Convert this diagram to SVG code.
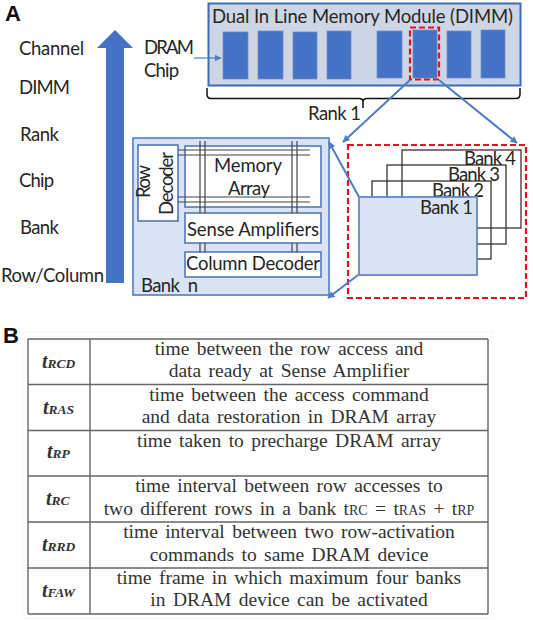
<svg xmlns="http://www.w3.org/2000/svg" width="533" height="620" viewBox="0 0 533 620">
<style>
.s{font-family:"Lato","Open Sans","Liberation Sans",sans-serif;font-size:18.500px;fill:#262626}
.h{font-family:"Liberation Sans",Arial,sans-serif;font-size:22px;font-weight:700;fill:#111}
.c{fill:#4472c4;stroke:#6f90cc;stroke-width:.8}
.b{fill:#fff;stroke:#5577b5;stroke-width:1.6}
.g{fill:none;stroke:#444;stroke-width:1.2}
.k{fill:none;stroke:#333;stroke-width:1.3}
.d{fill:none;stroke:#e8101c;stroke-width:2.200;stroke-dasharray:6 3}
.a{fill:none;stroke:#4f7cc4;stroke-width:2}
.t{font-family:"Liberation Serif","Times New Roman",serif;font-size:19.500px;fill:#333;text-anchor:middle;word-spacing:2.500px}
.m{font-family:"Liberation Serif","Times New Roman",serif;font-size:20px;font-weight:700;font-style:italic;fill:#333}
.m tspan{font-size:13.500px}
.t tspan{font-size:14px}
.l{fill:none;stroke:#666;stroke-width:1.4}
</style>
<defs>
<marker id="ah" markerWidth="8" markerHeight="8" refX="6.500" refY="3.500" orient="auto" markerUnits="userSpaceOnUse"><path d="M0 0L7 3.500L0 7Z" fill="#4f7cc4"/></marker>
</defs>
<rect width="533" height="620" fill="#fff"/>
<text class="h" x="5" y="21">A</text>
<text class="h" x="3" y="343">B</text>

<g id="hierarchy">
<path d="M106 283V48H97L115 30L133 48H124V283Z" fill="#4472c4"/>
<text class="s" x="19" y="55" textLength="65">Channel</text>
<text class="s" x="19" y="94" textLength="51">DIMM</text>
<text class="s" x="20" y="141" textLength="39">Rank</text>
<text class="s" x="19" y="187" textLength="35">Chip</text>
<text class="s" x="20" y="234" textLength="39">Bank</text>
<text class="s" x="1" y="282" textLength="103">Row/Column</text>
</g>

<g id="dimm">
<rect x="208.500" y="3.500" width="312" height="82" fill="#ced6e5" stroke="#3f6cb3" stroke-width="2"/>
<text class="s" x="212" y="23" textLength="301">Dual In Line Memory Module (DIMM)</text>
<rect class="c" x="223" y="32" width="25" height="47"/>
<rect class="c" x="258" y="31" width="25" height="48"/>
<rect class="c" x="293" y="32" width="24" height="47"/>
<rect class="c" x="327" y="31" width="24" height="48"/>
<rect class="c" x="377" y="31" width="25" height="47"/>
<rect class="c" x="413" y="30" width="24" height="48"/>
<rect class="c" x="447" y="31" width="24" height="47"/>
<rect class="c" x="481" y="30" width="24" height="48"/>
<rect class="d" x="410" y="27.500" width="29" height="52"/>
</g>
<g id="dram-chip-label">
<text class="s" x="144" y="54" textLength="50">DRAM</text>
<text class="s" x="144" y="77" textLength="35">Chip</text>
</g>
<g id="rank-1">
<path d="M207 88V94Q207 98.500 211 98.500H359Q363 98.500 363 102V108M363 102Q363 98.500 367 98.500H516Q520 98.500 520 94V88" fill="none" stroke="#111" stroke-width="1.500"/>
<text class="s" x="308" y="120" textLength="53">Rank 1</text>
</g>

<g id="bank-n">
<rect x="133" y="138" width="196" height="157" fill="#dae3f3" stroke="#5b83c4" stroke-width="1.700"/>
<rect class="b" x="185" y="146" width="136" height="61"/>
<rect class="b" x="138" y="145" width="40" height="76"/>
<rect class="b" x="185" y="213" width="136" height="30"/>
<rect class="b" x="185" y="252" width="136" height="25"/>
<path class="g" d="M200 141V213M205 141V213M292 141V213M297 141V213M200 243V252M205 243V252M292 243V252M297 243V252M178 150H310M178 155H310M178 197H310M178 202H310"/>
<text class="s" transform="translate(150 198) rotate(-90)" textLength="33" x="0" y="0">Row</text>
<text class="s" transform="translate(173 215) rotate(-90)" textLength="63" x="0" y="0">Decoder</text>
<text class="s" x="214" y="172" textLength="68">Memory</text>
<text class="s" x="228" y="195" textLength="42">Array</text>
<text class="s" x="187" y="236" textLength="132">Sense Amplifiers</text>
<text class="s" x="186" y="270" textLength="134">Column Decoder</text>
<text class="s" x="141" y="292" textLength="57" xml:space="preserve">Bank  n</text>
</g>

<g id="banks">
<rect class="d" x="348" y="145" width="178" height="153"/>
<rect class="k" x="402" y="150" width="119" height="78"/>
<rect class="k" x="387" y="165" width="119" height="79"/>
<rect class="k" x="372" y="181" width="119" height="78"/>
<text class="s" x="464" y="165" textLength="52">Bank 4</text>
<text class="s" x="448" y="181" textLength="52">Bank 3</text>
<text class="s" x="432" y="197" textLength="52">Bank 2</text>
<rect x="359" y="197" width="118" height="78" fill="#dae3f3" stroke="#5b83c4" stroke-width="1.700"/>
<text class="s" x="420" y="214" textLength="53">Bank 1</text>
</g>

<g id="connectors">
<path class="a" marker-end="url(#ah)" style="stroke-width:1.200" d="M194 58H221"/>
<path class="a" marker-end="url(#ah)" d="M410 80L343 142"/>
<path class="a" marker-end="url(#ah)" d="M439 80L517 143"/>
<path class="a" marker-end="url(#ah)" d="M359 197L329 142"/>
<path class="a" marker-end="url(#ah)" d="M358 275L328 298"/>
</g>

<g id="timing-table">
<rect x="24" y="332" width="469" height="286" fill="none" stroke="#f6f6f6"/>
<path class="l" d="M28 339H488M28 384.500H488M28 430.500H488M28 476H488M28 522H488M28 568H488M28 614H488M28 339V614M90 339V614M488 339V614"/>
<text class="m" x="42" y="368">t<tspan>RCD</tspan></text>
<text class="m" x="43" y="414">t<tspan>RAS</tspan></text>
<text class="m" x="47" y="458">t<tspan>RP</tspan></text>
<text class="m" x="46" y="505">t<tspan>RC</tspan></text>
<text class="m" x="42" y="551">t<tspan>RRD</tspan></text>
<text class="m" x="42" y="597">t<tspan>FAW</tspan></text>
<text class="t" x="289" y="355">time between the row access and</text>
<text class="t" x="289" y="377">data ready at Sense Amplifier</text>
<text class="t" x="289" y="401">time between the access command</text>
<text class="t" x="289" y="423">and data restoration in DRAM array</text>
<text class="t" x="289" y="447">time taken to precharge DRAM array</text>
<text class="t" x="289" y="492">time interval between row accesses to</text>
<text class="t" x="289" y="515">two different rows in a bank t<tspan>RC</tspan> = t<tspan>RAS</tspan> + t<tspan>RP</tspan></text>
<text class="t" x="289" y="538">time interval between two row-activation</text>
<text class="t" x="289" y="561">commands to same DRAM device</text>
<text class="t" x="289" y="584">time frame in which maximum four banks</text>
<text class="t" x="289" y="606">in DRAM device can be activated</text>
</g>
</svg>
